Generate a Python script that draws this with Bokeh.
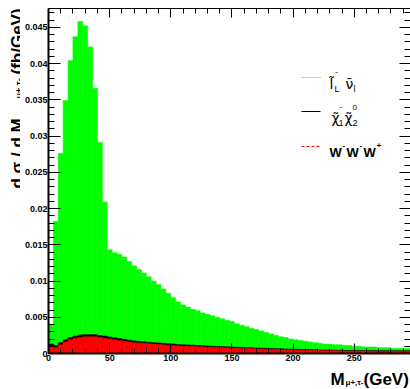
import numpy as np
from math import pi
from bokeh.plotting import figure
from bokeh.layouts import column, row
from bokeh.models import (LinearAxis, SingleIntervalTicker, CustomJSTickFormatter,
                          Label, Arrow, ColumnDataSource, Range1d)
from bokeh.embed import file_html
from bokeh.resources import INLINE

# ---------------- data (4 GeV bins starting at 0) ----------------
bin_width = 4.0
# visible top of the stack (sum of all three processes), fb/GeV
total = [0.0040, 0.0182, 0.0276, 0.0349, 0.0404, 0.0437, 0.0458, 0.0452, 0.0423, 0.0366,
         0.0291, 0.0209, 0.0143, 0.0139, 0.0137, 0.0133, 0.0127, 0.0121, 0.0116, 0.0111,
         0.0106, 0.0100, 0.0095, 0.0089, 0.0083, 0.0077, 0.0071, 0.0067, 0.0064, 0.0061,
         0.0059, 0.0056, 0.0054, 0.0052, 0.0050, 0.0048, 0.0046, 0.0044, 0.0041, 0.0039,
         0.0037, 0.0035, 0.0033, 0.0031, 0.0029, 0.0027, 0.0025, 0.0023, 0.0022, 0.0020,
         0.0019, 0.0018, 0.0017, 0.0016, 0.0015, 0.0014, 0.0013, 0.0013, 0.0012, 0.0012,
         0.0011, 0.0011, 0.0010, 0.0010, 0.0009, 0.0009, 0.0009, 0.0008, 0.0008, 0.0008,
         0.0007, 0.0007, 0.0007, 0.0007]
# W- W- W+ contribution (red)
www = [0.0010, 0.0008, 0.0012, 0.0016, 0.0019, 0.0021, 0.0022, 0.0023, 0.0023, 0.0023,
       0.0022, 0.0021, 0.0020, 0.0019, 0.0018, 0.0017, 0.0016, 0.0015, 0.00145, 0.0014,
       0.00135, 0.0013, 0.00125, 0.0012, 0.00115, 0.0011, 0.00105, 0.0010, 0.00098, 0.00095,
       0.00092, 0.0009, 0.00087, 0.00084, 0.00082, 0.0008, 0.00077, 0.00074, 0.00072, 0.0007,
       0.00068, 0.00066, 0.00064, 0.00062, 0.0006, 0.00058, 0.00056, 0.00054, 0.00052, 0.0005,
       0.00048, 0.00046, 0.00045, 0.00044, 0.00042, 0.0004, 0.00039, 0.00038, 0.00037, 0.00036,
       0.00035, 0.00034, 0.00034, 0.00033, 0.00033, 0.00032, 0.00032, 0.00031, 0.00031, 0.0003,
       0.0003, 0.0003, 0.0003, 0.0003]
# chargino-neutralino contribution (black)
chichi = [0.0003, 0.0003, 0.0003, 0.0003, 0.0003, 0.0003, 0.00035, 0.0003, 0.0003, 0.0003,
          0.0003, 0.0003, 0.00028, 0.00027, 0.00026, 0.00025, 0.00024, 0.00023, 0.00022, 0.00021,
          0.0002, 0.0002, 0.0002, 0.0002, 0.0002, 0.0002, 0.0002, 0.0002, 0.0002, 0.0002,
          0.00018, 0.00018, 0.00017, 0.00017, 0.00016, 0.00016, 0.00015, 0.00015, 0.00014, 0.00014,
          0.00013, 0.00013, 0.00012, 0.00012, 0.00012, 0.00011, 0.00011, 0.00011, 0.0001, 0.0001,
          0.0001, 0.0001, 0.0001, 0.0001, 0.00009, 0.00009, 0.00009, 0.00009, 0.00008, 0.00008,
          0.00008, 0.00008, 0.00008, 0.00008, 0.00008, 0.00008, 0.00008, 0.00008, 0.00008, 0.00008,
          0.00008, 0.00008, 0.00008, 0.00008]
x_ticks_step = 50
y_ticks_step = 0.005

# ---------------- derived stacking ----------------
n = len(total)
left = np.arange(n) * bin_width
right = left + bin_width
red_top = np.array(www)
black_top = red_top + np.array(chichi)
green_top = np.array(total)
src = ColumnDataSource(dict(left=left, right=right, red=red_top, black=black_top,
                            green=green_top))

FONT = "Liberation Sans"

# layout geometry (page pixels)
TOT_W, TOT_H = 410, 389
YL_W = 20            # strip holding the y title
MAIN_H = 365         # main figure height
XL_H = TOT_H - MAIN_H

p = figure(width=TOT_W - YL_W, height=MAIN_H, x_range=(0, 296), y_range=(0, 0.0476),
           output_backend="svg", toolbar_location=None,
           min_border_left=48 - YL_W, min_border_right=0, min_border_top=8,
           min_border_bottom=12,
           background_fill_color="white", border_fill_color="white",
           outline_line_color=None)
p.grid.visible = False
p.title.visible = False

p.quad(left="left", right="right", bottom=0, top="green", source=src,
       fill_color="#00ff00", line_color="#00ff00", line_width=0.6)
p.quad(left="left", right="right", bottom=0, top="black", source=src,
       fill_color="black", line_color="black", line_width=0.6)
p.quad(left="left", right="right", bottom=0, top="red", source=src,
       fill_color="#ff0000", line_color="#ff0000", line_width=0.6)

# ---------------- axes ----------------
def style_axis(ax, tick_in, minor_in, lw, labels=True):
    ax.axis_label = None
    ax.axis_label_standoff = 0
    ax.major_tick_in = tick_in
    ax.major_tick_out = 0
    ax.minor_tick_in = minor_in
    ax.minor_tick_out = 0
    ax.axis_line_width = lw
    ax.major_tick_line_width = 1
    ax.minor_tick_line_width = 1
    if labels:
        ax.major_label_text_font = FONT
        ax.major_label_text_font_style = "bold"
        ax.major_label_text_font_size = "9px"
        ax.major_label_text_color = "black"
        ax.major_label_standoff = 1
    else:
        ax.formatter = CustomJSTickFormatter(code="return '';")
        ax.major_label_text_font_size = "0px"
        ax.major_label_standoff = 0

xa = p.xaxis[0]
xa.ticker = SingleIntervalTicker(interval=x_ticks_step, num_minor_ticks=5)
style_axis(xa, 10, 5, 2)

ya = p.yaxis[0]
ya.ticker = SingleIntervalTicker(interval=y_ticks_step, num_minor_ticks=5)
ya.formatter = CustomJSTickFormatter(
    code="return Math.abs(tick) < 1e-9 ? '0' : String(parseFloat(tick.toFixed(3)));")
style_axis(ya, 12, 6, 2)

top_ax = LinearAxis(ticker=SingleIntervalTicker(interval=x_ticks_step, num_minor_ticks=5))
style_axis(top_ax, 9, 5, 1, labels=False)
p.add_layout(top_ax, "above")

right_ax = LinearAxis(ticker=SingleIntervalTicker(interval=y_ticks_step, num_minor_ticks=5))
style_axis(right_ax, 11, 6, 1, labels=False)
right_ax.axis_line_color = None
p.add_layout(right_ax, "right")

# ---------------- helper figures for titles (frame == canvas) ----------------
def text_strip(w, h):
    f = figure(width=w, height=h, x_range=Range1d(0, w), y_range=Range1d(0, h),
               output_backend="svg", toolbar_location=None,
               x_axis_type=None, y_axis_type=None,
               min_border_left=0, min_border_right=0, min_border_top=0, min_border_bottom=0,
               background_fill_color="white", border_fill_color="white",
               outline_line_color=None)
    f.grid.visible = False
    f.title.visible = False
    return f

ystrip = text_strip(YL_W, MAIN_H)
xstrip = text_strip(TOT_W, XL_H)

def lab(fig, ox, oy_bottom, text, px, py, size, bold=True, font=FONT, angle=0.0,
        color="black"):
    """px, py: page pixels; ox: page x of the frame's left edge; oy_bottom: page y of its bottom"""
    fig.add_layout(Label(x=px - ox, y=oy_bottom - py, x_units="screen", y_units="screen",
                         text=text, text_font=font, text_font_size=f"{size}px",
                         text_font_style="bold" if bold else "normal",
                         text_baseline="alphabetic", text_align="left",
                         angle=angle, text_color=color))

# y-axis title (rotated, reading upwards)
lab(ystrip, 0, MAIN_H, "d  σ  /  d  M", 16.5, 200, 17, angle=pi / 2)
lab(ystrip, 0, MAIN_H, "μ+,τ-", 18.5, 110, 9, angle=pi / 2)
lab(ystrip, 0, MAIN_H, "(fb/GeV)", 16.5, 86, 17, angle=pi / 2)

# x-axis title
lab(xstrip, 0, TOT_H, "M", 330, 379, 17)
lab(xstrip, 0, TOT_H, "μ+,τ-", 345, 382, 8)
lab(xstrip, 0, TOT_H, "(GeV)", 363, 379, 17)

# ---------------- legend inside the main frame ----------------
FX, FY = 48, 353   # page position of the main frame's left / bottom edges

def mlab(*a, **k):
    lab(p, FX, FY, *a, **k)

def seg(px0, px1, py, color, dash):
    p.add_layout(Arrow(x_start=px0 - FX, y_start=FY - py, x_end=px1 - FX, y_end=FY - py,
                       start_units="screen", end_units="screen", start=None, end=None,
                       line_color=color, line_dash=dash, line_width=1))

seg(301, 320, 77, "#00ff00", "1 1")
mlab("l\u0303", 329, 83, 14, bold=False, font="DejaVu Sans")
mlab("-", 335, 71, 8, bold=False)
mlab("L", 334, 88, 9, bold=False)
mlab("\u03bd\u0304", 345, 83, 14, bold=False, font="DejaVu Sans")
mlab("l", 353, 88, 9, bold=False)

seg(301, 320, 111, "black", "solid")
mlab("\u03c7\u0303", 331, 117, 14, bold=False, font="DejaVu Sans")
mlab("-", 339, 106, 8, bold=False)
mlab("1", 338, 122, 9, bold=False)
mlab("\u03c7\u0303", 344, 117, 14, bold=False, font="DejaVu Sans")
mlab("0", 352, 107, 8, bold=False)
mlab("2", 352, 122, 9, bold=False)

seg(301, 320, 146, "#ff0000", "3 2")
mlab("W", 329, 152, 13)
mlab("-", 342, 145, 8)
mlab("W", 346, 152, 13)
mlab("-", 359, 145, 8)
mlab("W", 363, 152, 13)
mlab("+", 376, 145, 8)

layout = column(row(ystrip, p), xstrip)
open("out.html", "w").write(file_html(layout, INLINE))
